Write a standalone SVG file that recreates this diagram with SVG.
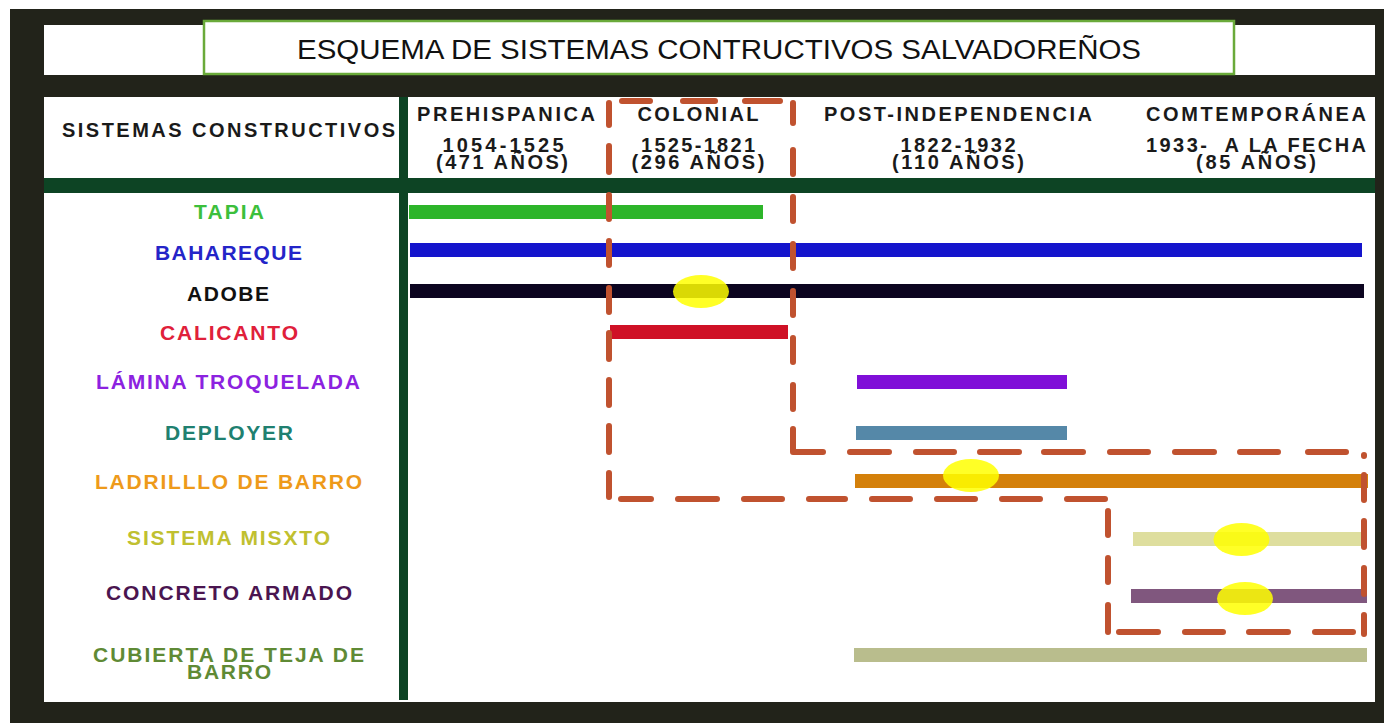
<svg xmlns="http://www.w3.org/2000/svg" width="1384" height="723" viewBox="0 0 1384 723">
<style>
  .frame { fill: #22231a; }
  .white { fill: #ffffff; }
  .dg { fill: #0d4424; }
  .hdr { font-family: "Liberation Sans Narrow", "Liberation Sans", Arial, sans-serif; font-weight: bold; font-size: 20px; fill: #1a1a1a; text-anchor: middle; }
  .lbl { font-family: "Liberation Sans Narrow", "Liberation Sans", Arial, sans-serif; font-weight: bold; font-size: 21px; text-anchor: middle; }
  .title { font-family: "Liberation Sans", Arial, sans-serif; font-size: 27px; fill: #111; text-anchor: middle; }
  .hl { fill: #ffff00; opacity: 0.85; }
  .dash { fill: none; stroke: #c0522f; stroke-width: 6; stroke-linecap: round; stroke-linejoin: round; }
</style>

<!-- background frame -->
<rect x="0" y="0" width="1384" height="723" fill="#ffffff"/>
<rect class="frame" x="10" y="9" width="1374" height="714"/>
<rect class="white" x="44" y="25" width="1331" height="50"/>
<rect class="white" x="44" y="97" width="1331" height="81"/>
<rect class="dg" x="44" y="178" width="1331" height="15"/>
<rect class="white" x="44" y="193" width="1331" height="509"/>
<rect class="dg" x="399" y="97" width="9" height="603"/>

<g id="title">
  <rect x="204" y="21" width="1030" height="53" fill="#ffffff" stroke="#6aaa3a" stroke-width="2.5"/>
  <text class="title" x="719" y="59" textLength="844" lengthAdjust="spacingAndGlyphs">ESQUEMA DE SISTEMAS CONTRUCTIVOS SALVADOREÑOS</text>
</g>

<g id="header-sistemas">
  <text class="hdr" x="228.5" y="137" textLength="333" lengthAdjust="spacing">SISTEMAS CONSTRUCTIVOS</text>
</g>
<g id="header-prehispanica">
  <text class="hdr" x="506" y="121" textLength="178" lengthAdjust="spacing">PREHISPANICA</text>
  <text class="hdr" x="503" y="152" textLength="121" lengthAdjust="spacing">1054-1525</text>
  <text class="hdr" x="502" y="169" textLength="132" lengthAdjust="spacing">(471 AÑOS)</text>
</g>
<g id="header-colonial">
  <text class="hdr" x="698" y="121" textLength="121" lengthAdjust="spacing">COLONIAL</text>
  <text class="hdr" x="698" y="152" textLength="114" lengthAdjust="spacing">1525-1821</text>
  <text class="hdr" x="698" y="169" textLength="133" lengthAdjust="spacing">(296 AÑOS)</text>
</g>
<g id="header-post">
  <text class="hdr" x="958" y="121" textLength="268" lengthAdjust="spacing">POST-INDEPENDENCIA</text>
  <text class="hdr" x="958" y="152" textLength="115" lengthAdjust="spacing">1822-1932</text>
  <text class="hdr" x="958" y="169" textLength="132" lengthAdjust="spacing">(110 AÑOS)</text>
</g>
<g id="header-contemporanea">
  <text class="hdr" x="1256" y="121" textLength="220" lengthAdjust="spacing">COMTEMPORÁNEA</text>
  <text class="hdr" x="1256" y="152" textLength="220" lengthAdjust="spacing" xml:space="preserve">1933-  A LA FECHA</text>
  <text class="hdr" x="1256" y="169" textLength="120" lengthAdjust="spacing">(85 AÑOS)</text>
</g>

<g id="row-tapia">
  <text class="lbl" x="229" y="219" fill="#3cbf3c" textLength="70" lengthAdjust="spacing">TAPIA</text>
  <rect x="409" y="205" width="354" height="14" fill="#2db52a"/>
</g>
<g id="row-bahareque">
  <text class="lbl" x="228.5" y="260" fill="#2424c8" textLength="147" lengthAdjust="spacing">BAHAREQUE</text>
  <rect x="410" y="243" width="952" height="14" fill="#1414cc"/>
</g>
<g id="row-adobe">
  <text class="lbl" x="228" y="301" fill="#111111" textLength="82" lengthAdjust="spacing">ADOBE</text>
  <rect x="410" y="284" width="954" height="14" fill="#0c0520"/>
  <ellipse class="hl" cx="701" cy="291.5" rx="28" ry="16.5"/>
</g>
<g id="row-calicanto">
  <text class="lbl" x="229" y="340" fill="#e0203a" textLength="138" lengthAdjust="spacing">CALICANTO</text>
  <rect x="610" y="325" width="178" height="14" fill="#cf1126"/>
</g>
<g id="row-lamina">
  <text class="lbl" x="228" y="389" fill="#8c22e0" textLength="264" lengthAdjust="spacing">LÁMINA TROQUELADA</text>
  <rect x="857" y="375" width="210" height="14" fill="#800fd8"/>
</g>
<g id="row-deployer">
  <text class="lbl" x="229" y="440" fill="#208070" textLength="128" lengthAdjust="spacing">DEPLOYER</text>
  <rect x="856" y="426" width="211" height="14" fill="#5588a8"/>
</g>
<g id="row-ladrillo">
  <text class="lbl" x="228.5" y="489" fill="#ee9a1a" textLength="267" lengthAdjust="spacing">LADRILLLO DE BARRO</text>
  <rect x="855" y="474" width="513" height="14" fill="#d4800a"/>
  <ellipse class="hl" cx="971" cy="475.5" rx="28" ry="16.5"/>
</g>
<g id="row-misxto">
  <text class="lbl" x="228.5" y="545" fill="#c0c030" textLength="203" lengthAdjust="spacing">SISTEMA MISXTO</text>
  <rect x="1133" y="532" width="228" height="14" fill="#dede9e"/>
  <ellipse class="hl" cx="1241.5" cy="539.5" rx="28" ry="16.5"/>
</g>
<g id="row-concreto">
  <text class="lbl" x="229" y="600" fill="#4a1550" textLength="246" lengthAdjust="spacing">CONCRETO ARMADO</text>
  <rect x="1131" y="589" width="236" height="14" fill="#80577e"/>
  <ellipse class="hl" cx="1245" cy="598.5" rx="28" ry="16.5"/>
</g>
<g id="row-cubierta">
  <text class="lbl" x="228.5" y="662" fill="#5f8a35" textLength="271" lengthAdjust="spacing">CUBIERTA DE TEJA DE</text>
  <text class="lbl" x="229" y="679" fill="#5f8a35" textLength="84" lengthAdjust="spacing">BARRO</text>
  <rect x="854" y="648" width="513" height="14" fill="#b9bd8d"/>
</g>

<g id="connectors">
  <!-- colonial period outline -->
  <path class="dash" d="M622 101 H650 M683 101 H715 M745 101 H780"/>
  <path class="dash" d="M609 103 V125 M609 146 V172 M609 195 V219 M609 241 V265 M609 288 V312 M609 333 V359 M609 380 V405 M609 426 V452 M609 473 V497"/>
  <path class="dash" d="M793 103 V123 M793 150 V174 M793 197 V221 M793 244 V268 M793 291 V315 M793 338 V362 M793 385 V409"/>
  <path class="dash" d="M793 429 V452 H823"/>
  <path class="dash" d="M850 452 H889 M916 452 H954 M980 452 H1019 M1044 452 H1083 M1110 452 H1148 M1175 452 H1214 M1240 452 H1278 M1308 452 H1346"/>
  <path class="dash" d="M1364 455 V456 M1364 475 V500 M1364 521 V547 M1364 568 V594 M1364 615 V634"/>
  <path class="dash" d="M621 499 H651 M678 499 H717 M744 499 H782 M809 499 H845 M872 499 H910 M937 499 H975 M1002 499 H1040 M1067 499 H1105"/>
  <!-- contemporary outline -->
  <path class="dash" d="M1108 511 V535 M1108 558 V582 M1108 605 V632"/>
  <path class="dash" d="M1119 632 H1158 M1185 632 H1223 M1249 632 H1288 M1315 632 H1353"/>
</g>
</svg>
